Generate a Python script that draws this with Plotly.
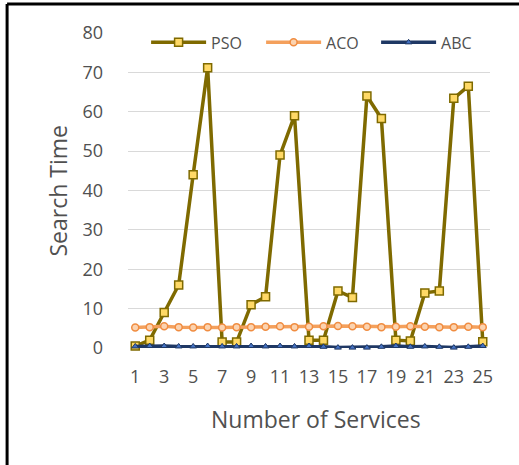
import plotly.graph_objects as go

# Number of services (category axis)
services = list(range(1, 26))

# Search time per algorithm
pso = [0.5, 2, 9, 16, 44, 71.2, 1.5, 1.5, 11, 13, 49, 59, 2, 2, 14.5, 12.8,
       64, 58.3, 2, 1.8, 14, 14.5, 63.4, 66.5, 1.6]
aco = [5.2, 5.3, 5.5, 5.3, 5.2, 5.3, 5.2, 5.3, 5.3, 5.4, 5.5, 5.3, 5.4, 5.5,
       5.6, 5.5, 5.4, 5.3, 5.4, 5.5, 5.4, 5.3, 5.3, 5.4, 5.3]
abc = [0.4, 0.5, 0.5, 0.4, 0.4, 0.5, 0.4, 0.4, 0.5, 0.4, 0.5, 0.4, 0.5, 0.3,
       0.1, 0.1, 0.1, 0.3, 0.5, 0.3, 0.4, 0.3, 0.1, 0.3, 0.5]

xtick_vals = list(range(1, 26, 2))
ytick_vals = list(range(0, 81, 10))

FONT = "Open Sans"
TXT = "#505050"

fig = go.Figure()
fig.add_trace(go.Scatter(
    x=services, y=pso, name="PSO", mode="lines+markers", cliponaxis=False,
    line=dict(color="#7f6a00", width=3.5),
    marker=dict(symbol="square", size=8, color="#ffd966",
                line=dict(color="#7f6a00", width=1.5)),
))
fig.add_trace(go.Scatter(
    x=services, y=aco, name="ACO", mode="lines+markers", cliponaxis=False,
    line=dict(color="#f4a05c", width=3.5),
    marker=dict(symbol="circle", size=7, color="#fbd3b0",
                line=dict(color="#f08c40", width=1.5)),
))
fig.add_trace(go.Scatter(
    x=services, y=abc, name="ABC", mode="lines+markers", cliponaxis=False,
    line=dict(color="#1f3864", width=3.5),
    marker=dict(symbol="triangle-up", size=6, color="#4472c4",
                line=dict(color="#1f3864", width=1)),
))

# frame lines (top and left edges)
fig.add_shape(type="line", xref="paper", yref="paper",
              x0=-0.334, x1=1.1, y0=1.092, y1=1.092,
              line=dict(color="black", width=3))
fig.add_shape(type="line", xref="paper", yref="paper",
              x0=-0.334, x1=-0.334, y0=1.092, y1=-0.38,
              line=dict(color="black", width=3))

# axis titles
fig.add_annotation(text="Search Time", xref="paper", yref="paper",
                   x=-0.196, y=0.5, xanchor="center", yanchor="middle",
                   textangle=-90, showarrow=False,
                   font=dict(family=FONT, size=23, color=TXT))
fig.add_annotation(text="Number of Services", xref="paper", yref="paper",
                   x=0.52, y=-0.225, xanchor="center", yanchor="middle",
                   showarrow=False,
                   font=dict(family=FONT, size=23, color=TXT))

fig.update_layout(
    width=519, height=465,
    margin=dict(l=128, r=29, t=33, b=117),
    paper_bgcolor="white", plot_bgcolor="white",
    font=dict(family=FONT, size=18, color=TXT),
    showlegend=True,
    legend=dict(orientation="h", x=0.05, y=0.97, xanchor="left", yanchor="middle",
                bgcolor="rgba(255,255,255,0)", font=dict(size=16, color=TXT),
                itemwidth=55, entrywidth=45, entrywidthmode="pixels",
                tracegroupgap=0),
    xaxis=dict(range=[0.5, 25.5], tickmode="array", tickvals=xtick_vals,
               showgrid=False, zeroline=False, showline=False, ticks="",
               ticklabelstandoff=16, tickfont=dict(size=18)),
    yaxis=dict(range=[0, 80], tickmode="array", tickvals=ytick_vals,
               showgrid=True, gridcolor="#d9d9d9", gridwidth=1,
               zeroline=False, showline=False, ticks="",
               ticklabelstandoff=24, tickfont=dict(size=18)),
)

fig.write_html("out.html")
